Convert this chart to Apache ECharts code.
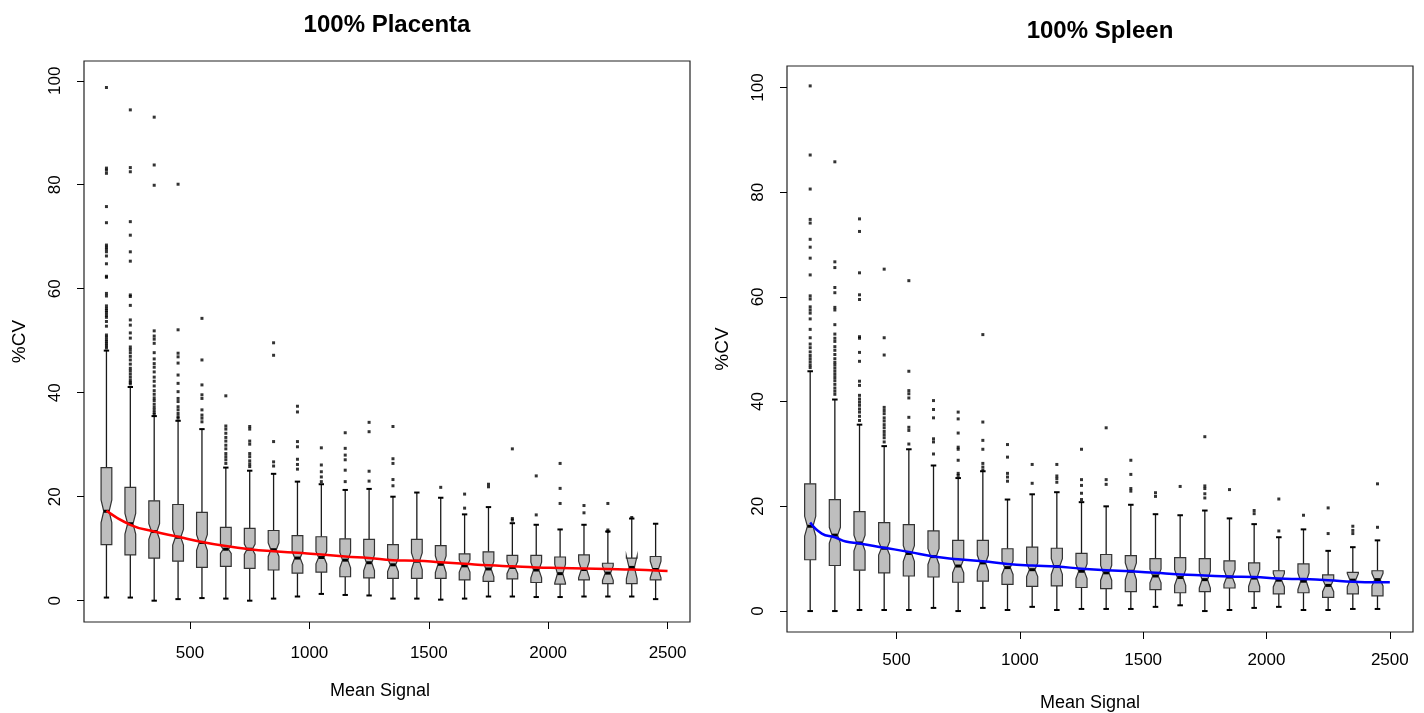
<!DOCTYPE html>
<html>
<head>
<meta charset="utf-8">
<title>%CV vs Mean Signal</title>
<script src="https://cdn.jsdelivr.net/npm/echarts@6/dist/echarts.min.js"></script>
<style>
html, body { margin: 0; padding: 0; background: #fff; }
#chart { width: 1424px; height: 713px; }
</style>
</head>
<body>
<div id="chart"></div>
<script>
// box centres (mean signal bins)
const positions = [150, 250, 350, 450, 550, 650, 750, 850, 950, 1050, 1150, 1250,
  1350, 1450, 1550, 1650, 1750, 1850, 1950, 2050, 2150, 2250, 2350, 2450]
const xTicks = [500, 1000, 1500, 2000, 2500]
const yTicks = [0, 20, 40, 60, 80, 100]

// 100% Placenta
const placentaLow = [0.6, 0.6, 0, 0.3, 0.5, 0.4, 0, 0.4, 0.8, 1.3, 1.1, 1.0, 0.4, 0.4, 0.2, 0.4, 0.8, 0.8, 0.7, 0.7, 0.8, 0.8, 0.8, 0.3]
const placentaQ1 = [10.8, 8.8, 8.2, 7.6, 6.4, 6.6, 6.2, 5.9, 5.3, 5.5, 4.6, 4.4, 4.3, 4.3, 4.3, 4.0, 3.7, 4.2, 3.5, 3.2, 4.0, 3.3, 3.3, 4.0]
const placentaMed = [17.2, 14.8, 13.3, 12.2, 11.2, 9.9, 9.9, 9.8, 8.2, 8.3, 7.8, 7.3, 6.9, 7.6, 7.0, 6.7, 6.1, 6.4, 5.9, 5.2, 6.0, 5.3, 6.4, 6.0]
const placentaQ3 = [25.6, 21.8, 19.2, 18.5, 17.0, 14.1, 13.9, 13.5, 12.5, 12.3, 11.9, 11.8, 10.8, 11.8, 10.6, 9.0, 9.4, 8.7, 8.7, 8.4, 8.8, 7.2, 8.2, 8.5]
const placentaHigh = [48.1, 41.1, 35.5, 34.6, 33.0, 25.6, 25.0, 24.4, 22.9, 22.4, 21.3, 21.5, 20.0, 20.8, 19.8, 16.6, 18.0, 14.9, 14.6, 13.7, 14.6, 13.3, 15.8, 14.8]
const placentaNotch = [2.2, 2.0, 1.5, 1.5, 1.5, 0.8, 1.0, 1.3, 1.3, 1.2, 1.5, 1.5, 1.3, 1.6, 1.6, 1.2, 1.5, 1.2, 1.5, 1.8, 1.6, 1.4, 2.2, 1.6]
const placentaOutliers = [
  [98.7, 83.2, 82.8, 82.2, 75.8, 72.7, 68.4, 68.0, 67.6, 67.1, 66.3, 64.8, 62.4, 62.2, 59.1, 58.6, 56.7, 56.2, 55.8, 55.4, 54.9, 54.5, 53.7, 52.8, 51.1, 50.7, 50.2, 49.8, 49.4, 49.0, 48.6],
  [94.4, 83.3, 82.5, 72.9, 70.3, 67.1, 65.3, 58.8, 58.5, 56.8, 54.0, 53.0, 51.5, 50.5, 48.8, 48.3, 47.7, 47.0, 46.3, 45.5, 44.7, 44.2, 43.6, 43.0, 42.4, 42.0, 41.7],
  [93.0, 83.8, 79.9, 51.9, 50.9, 50.3, 49.5, 47.7, 46.5, 45.6, 44.9, 44.0, 43.0, 42.2, 41.3, 40.4, 39.7, 39.0, 38.5, 37.8, 37.2, 36.7, 36.2, 35.8],
  [80.1, 52.1, 47.6, 46.9, 45.7, 43.4, 41.8, 40.2, 38.9, 38.3, 37.3, 36.7, 36.0, 35.4, 35.1],
  [54.3, 46.3, 41.5, 39.6, 38.9, 36.7, 35.7, 35.1, 34.4],
  [39.4, 33.6, 33.0, 32.2, 31.4, 30.7, 29.9, 29.2, 28.3, 27.7, 27.1, 26.4],
  [33.5, 33.0, 30.7, 30.1, 28.3, 27.7, 26.9, 26.3, 25.8],
  [49.6, 47.2, 30.6, 26.7, 25.9],
  [37.4, 36.3, 30.6, 29.6, 27.2, 26.2, 25.3],
  [29.4, 26.1, 24.8, 23.8, 22.9],
  [32.3, 29.3, 28.0, 27.1, 25.1, 22.9],
  [34.3, 32.5, 24.9, 23.0],
  [33.5, 27.3, 26.4, 23.3, 22.1],
  [],
  [21.8],
  [20.5, 17.8],
  [22.4, 21.9],
  [29.2, 15.8, 15.5],
  [24.0, 16.5],
  [26.4, 21.6, 18.7],
  [18.3, 16.9],
  [18.7, 13.6, 13.3],
  [16.0],
  []
]
const placentaSmoothX = [150, 250, 350, 450, 550, 650, 750, 850, 950, 1050, 1150, 1250, 1350, 1450, 1550, 1650, 1750, 1850, 1950, 2050, 2150, 2250, 2350, 2450, 2500]
const placentaSmoothY = [17.3, 14.6, 13.3, 12.3, 11.3, 10.5, 9.9, 9.5, 9.2, 8.9, 8.5, 8.2, 7.8, 7.7, 7.4, 7.1, 6.8, 6.6, 6.4, 6.3, 6.2, 6.1, 6.0, 5.8, 5.7]

// 100% Spleen
const spleenLow = [0, 0, 0.2, 0.2, 0.2, 0.6, 0, 0.6, 0.2, 0.8, 0.2, 0.4, 0.4, 0.4, 0.8, 1.1, 0, 0.2, 0.6, 0.8, 0.2, 0.2, 0.4, 0.4]
const spleenQ1 = [9.8, 8.7, 7.8, 7.3, 6.7, 6.5, 5.5, 5.7, 5.1, 4.7, 4.8, 4.5, 4.3, 3.7, 4.1, 3.5, 3.7, 4.4, 3.7, 3.3, 3.5, 2.6, 3.3, 2.9]
const spleenMed = [16.2, 14.5, 13.0, 12.0, 11.0, 10.4, 8.6, 9.2, 8.3, 7.9, 8.5, 7.6, 7.3, 7.6, 6.7, 6.4, 6.0, 6.5, 6.3, 5.9, 5.7, 4.9, 5.9, 6.0]
const spleenQ3 = [24.3, 21.3, 19.0, 16.9, 16.5, 15.3, 13.5, 13.5, 11.9, 12.2, 12.0, 11.0, 10.8, 10.6, 10.0, 10.2, 10.0, 9.6, 9.2, 7.7, 9.0, 6.9, 7.4, 7.7]
const spleenHigh = [45.8, 40.4, 35.6, 31.5, 30.9, 27.8, 25.4, 26.7, 21.3, 22.3, 22.7, 20.8, 20.0, 20.3, 18.5, 18.3, 19.2, 17.7, 16.6, 14.1, 15.6, 11.5, 12.2, 13.5]
const spleenNotch = [1.9, 1.5, 1.5, 1.3, 1.5, 1.5, 1.3, 1.5, 1.3, 1.3, 1.5, 1.4, 1.4, 1.6, 1.3, 1.5, 1.6, 1.4, 1.6, 1.3, 1.6, 1.2, 1.3, 1.2]
const spleenOutliers = [
  [100.3, 87.1, 80.6, 74.8, 74.1, 71.0, 69.5, 67.4, 64.2, 60.2, 59.6, 58.1, 57.5, 56.9, 55.8, 53.8, 52.2, 51.0, 50.3, 49.5, 48.8, 48.2, 47.6, 47.0, 46.5],
  [85.8, 66.7, 65.6, 61.8, 60.8, 58.0, 57.5, 54.7, 52.9, 52.1, 51.5, 50.5, 49.8, 49.0, 48.2, 47.5, 47.0, 46.4, 45.8, 45.2, 44.6, 44.0, 43.3, 42.6, 42.0, 41.4],
  [74.9, 72.5, 64.6, 60.4, 59.5, 52.4, 52.1, 49.4, 47.7, 43.9, 43.1, 41.2, 40.5, 39.9, 39.3, 38.6, 38.0, 37.2, 36.4],
  [65.3, 52.2, 48.9, 38.9, 38.3, 37.7, 36.9, 36.3, 35.6, 35.0, 34.3, 33.7, 33.1, 32.3],
  [63.1, 45.8, 42.1, 41.5, 40.7, 37.0, 35.1, 34.5, 31.9],
  [40.2, 38.5, 36.9, 32.9, 32.3, 30.0],
  [38.0, 36.7, 34.0, 31.3, 30.9, 28.8, 26.3, 25.9],
  [52.8, 36.1, 32.6, 30.9, 28.2, 27.5, 26.9],
  [31.8, 29.4, 26.3, 25.6, 24.8],
  [28.0, 24.4],
  [28.0, 25.8, 25.3, 24.6],
  [30.9, 25.1, 24.0, 22.5, 21.3],
  [35.0, 25.1, 24.2],
  [28.8, 26.1, 23.4, 22.9],
  [22.6, 21.9],
  [23.8],
  [33.3, 23.9, 23.4, 22.4, 21.6],
  [23.2],
  [19.2, 18.6],
  [21.4, 15.3],
  [18.3],
  [19.7, 14.8],
  [16.2, 15.4, 14.8],
  [24.3, 16.0]
]
const spleenSmoothX = [150, 197, 250, 294, 350, 450, 550, 650, 750, 850, 950, 1050, 1150, 1250, 1350, 1450, 1550, 1650, 1750, 1850, 1950, 2050, 2150, 2250, 2350, 2450, 2500]
const spleenSmoothY = [16.9, 14.8, 14.1, 13.3, 12.9, 12.1, 11.3, 10.4, 9.9, 9.5, 9.0, 8.7, 8.5, 8.1, 7.8, 7.6, 7.3, 7.0, 6.8, 6.6, 6.5, 6.2, 6.1, 5.9, 5.6, 5.5, 5.5]

const BOX_WIDTH = 45 // in mean-signal units
const FONT = 'Liberation Sans, Arial, sans-serif'

function boxRows (low, q1, med, q3, high, notch) {
  return positions.map((x, i) => [x, low[i], q1[i], med[i], q3[i], high[i], notch[i]])
}

function outlierRows (outliers) {
  const rows = []
  outliers.forEach((list, i) => {
    list.forEach((v) => rows.push([positions[i], v]))
  })
  return rows
}

function zipXY (xs, ys) {
  return xs.map((x, i) => [x, ys[i]])
}

// R style notched box with whiskers and staples
function renderNotchBox (params, api) {
  const x = api.value(0)
  const lo = api.value(1)
  const q1 = api.value(2)
  const med = api.value(3)
  const q3 = api.value(4)
  const hi = api.value(5)
  const nh = api.value(6)
  const hw = api.size([BOX_WIDTH, 0])[0] / 2
  const yOf = (v) => api.coord([x, v])[1]
  const cx = api.coord([x, med])[0]
  const yLo = yOf(lo)
  const yQ1 = yOf(q1)
  const yMed = yOf(med)
  const yQ3 = yOf(q3)
  const yHi = yOf(hi)
  const yNl = yOf(med - nh)
  const yNh = yOf(med + nh)
  const dark = '#1a1a1a'
  return {
    type: 'group',
    children: [
      { type: 'line', shape: { x1: cx, y1: yQ3, x2: cx, y2: yHi }, style: { stroke: dark, lineWidth: 1.3 } },
      { type: 'line', shape: { x1: cx, y1: yQ1, x2: cx, y2: yLo }, style: { stroke: dark, lineWidth: 1.3 } },
      { type: 'line', shape: { x1: cx - hw / 2, y1: yHi, x2: cx + hw / 2, y2: yHi }, style: { stroke: '#000', lineWidth: 2 } },
      { type: 'line', shape: { x1: cx - hw / 2, y1: yLo, x2: cx + hw / 2, y2: yLo }, style: { stroke: '#000', lineWidth: 2 } },
      {
        type: 'polygon',
        shape: {
          points: [
            [cx - hw, yQ1], [cx - hw, yNl], [cx - hw / 2, yMed], [cx - hw, yNh], [cx - hw, yQ3],
            [cx + hw, yQ3], [cx + hw, yNh], [cx + hw / 2, yMed], [cx + hw, yNl], [cx + hw, yQ1]
          ]
        },
        style: { fill: '#bebebe', stroke: '#333', lineWidth: 1.2 }
      },
      { type: 'line', shape: { x1: cx - hw / 2, y1: yMed, x2: cx + hw / 2, y2: yMed }, style: { stroke: '#000', lineWidth: 3 } }
    ]
  }
}

function xAxisFor (gridIndex, margin, nameGap, namePad) {
  return {
    gridIndex: gridIndex,
    type: 'value',
    min: 56,
    max: 2594,
    name: 'Mean Signal',
    nameLocation: 'middle',
    nameGap: nameGap,
    nameTextStyle: { color: '#000', fontSize: 18, fontFamily: FONT, padding: [0, namePad, 0, 0] },
    axisLine: { show: false, onZero: false },
    axisTick: { show: true, length: 7, inside: false, customValues: xTicks, lineStyle: { color: '#000' } },
    axisLabel: {
      show: true,
      margin: margin,
      customValues: xTicks,
      formatter: (v) => String(v),
      color: '#000',
      fontSize: 17,
      fontFamily: FONT
    },
    splitLine: { show: false }
  }
}

function yAxisFor (gridIndex, min, max) {
  return {
    gridIndex: gridIndex,
    type: 'value',
    min: min,
    max: max,
    name: '%CV',
    nameLocation: 'middle',
    nameGap: 55,
    nameRotate: 90,
    nameTextStyle: { color: '#000', fontSize: 19, fontFamily: FONT },
    axisLine: { show: false, onZero: false },
    axisTick: { show: true, length: 7, inside: false, customValues: yTicks, lineStyle: { color: '#000' } },
    axisLabel: {
      show: true,
      rotate: 90,
      margin: 20,
      customValues: yTicks,
      formatter: (v) => String(v),
      color: '#000',
      fontSize: 17,
      fontFamily: FONT
    },
    splitLine: { show: false }
  }
}

const chart = echarts.init(document.getElementById('chart'))

const option = {
  backgroundColor: '#fff',
  animation: false,
  title: [
    { text: '100% Placenta', left: 382, top: 8, textAlign: 'center', textStyle: { fontSize: 24, fontWeight: 'bold', color: '#000', fontFamily: FONT } },
    { text: '100% Spleen', left: 1095, top: 14, textAlign: 'center', textStyle: { fontSize: 24, fontWeight: 'bold', color: '#000', fontFamily: FONT } }
  ],
  grid: [
    { left: 84, top: 61, width: 606, height: 561, outerBoundsMode: 'none', show: true, borderColor: '#222', borderWidth: 1.2, backgroundColor: 'transparent' },
    { left: 787, top: 66, width: 626, height: 566, outerBoundsMode: 'none', show: true, borderColor: '#222', borderWidth: 1.2, backgroundColor: 'transparent' }
  ],
  xAxis: [
    xAxisFor(0, 23, 60, 14),
    xAxisFor(1, 20, 62, 20)
  ],
  yAxis: [
    yAxisFor(0, -4.1, 103.8),
    yAxisFor(1, -4.0, 104.1)
  ],
  series: [
    {
      type: 'custom',
      xAxisIndex: 0,
      yAxisIndex: 0,
      renderItem: renderNotchBox,
      encode: { x: 0, y: [1, 5] },
      z: 2,
      data: boxRows(placentaLow, placentaQ1, placentaMed, placentaQ3, placentaHigh, placentaNotch)
    },
    {
      type: 'scatter',
      xAxisIndex: 0,
      yAxisIndex: 0,
      symbol: 'rect',
      symbolSize: 3,
      itemStyle: { color: '#000' },
      z: 3,
      data: outlierRows(placentaOutliers)
    },
    {
      type: 'line',
      xAxisIndex: 0,
      yAxisIndex: 0,
      smooth: true,
      showSymbol: false,
      lineStyle: { color: '#ff0000', width: 2.5 },
      z: 4,
      data: zipXY(placentaSmoothX, placentaSmoothY)
    },
    {
      type: 'custom',
      xAxisIndex: 1,
      yAxisIndex: 1,
      renderItem: renderNotchBox,
      encode: { x: 0, y: [1, 5] },
      z: 2,
      data: boxRows(spleenLow, spleenQ1, spleenMed, spleenQ3, spleenHigh, spleenNotch)
    },
    {
      type: 'scatter',
      xAxisIndex: 1,
      yAxisIndex: 1,
      symbol: 'rect',
      symbolSize: 3,
      itemStyle: { color: '#000' },
      z: 3,
      data: outlierRows(spleenOutliers)
    },
    {
      type: 'line',
      xAxisIndex: 1,
      yAxisIndex: 1,
      smooth: true,
      showSymbol: false,
      lineStyle: { color: '#0000ff', width: 2.5 },
      z: 4,
      data: zipXY(spleenSmoothX, spleenSmoothY)
    }
  ]
}

chart.setOption(option)
</script>
</body>
</html>
